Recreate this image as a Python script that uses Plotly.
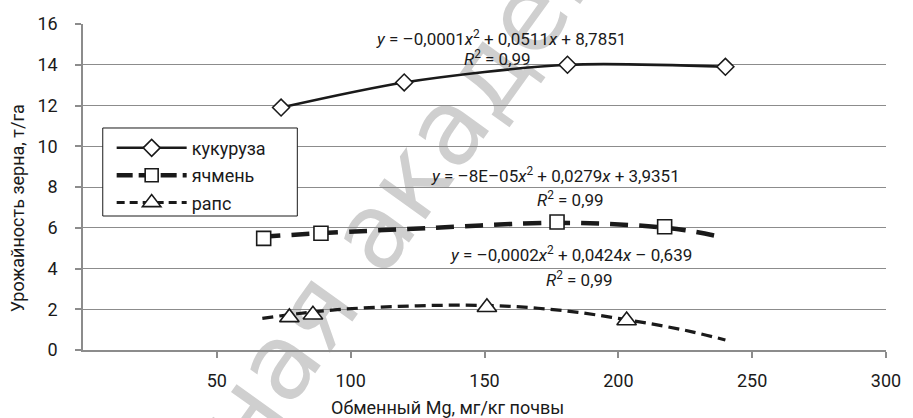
import plotly.graph_objects as go

# ---- data ----
corn_x = [74, 120, 181, 240]
corn_y = [11.90, 13.13, 14.00, 13.90]
barley_x = [67.5, 88.9, 177.1, 217.3]
barley_y = [5.48, 5.73, 6.28, 6.05]
rape_x = [77.1, 85.9, 150.9, 203.1]
rape_y = [1.60, 1.73, 2.10, 1.45]
# polynomial trendlines as drawn in the reference
barley_trend_x = [67, 90, 130, 175, 205, 225, 238]
barley_trend_y = [5.56, 5.74, 5.99, 6.24, 6.13, 5.88, 5.56]
rape_trend_x = [67, 80, 95, 110, 125, 140, 155, 170, 185, 200, 215, 228, 240]
rape_trend_y = [1.55, 1.78, 1.98, 2.10, 2.17, 2.20, 2.17, 2.05, 1.85, 1.55, 1.22, 0.88, 0.49]
series_names = ["кукуруза", "ячмень", "рапс"]
x_ticks = [50, 100, 150, 200, 250, 300]
y_ticks = [0, 2, 4, 6, 8, 10, 12, 14, 16]
eq_texts = [
    "<i>y</i> = –0,0001<i>x</i><sup>2</sup> + 0,0511<i>x</i> + 8,7851",
    "<i>y</i> = –8E–05<i>x</i><sup>2</sup> + 0,0279<i>x</i> + 3,9351",
    "<i>y</i> = –0,0002<i>x</i><sup>2</sup> + 0,0424<i>x</i> – 0,639",
]
r2_text = "<i>R</i><sup>2</sup> = 0,99"
x_title = "Обменный Mg, мг/кг почвы"
y_title = "Урожайность зерна, т/га"
watermark = "ная академ"

FONT = "Roboto, Liberation Sans, sans-serif"
INK = "#1a1a1a"
GRID = "#8c8c8c"

fig = go.Figure()
mk = dict(color="white", line=dict(color=INK, width=1.6))

# кукуруза: smoothed line through the points
fig.add_trace(go.Scatter(
    x=corn_x, y=corn_y, mode="lines+markers", name=series_names[0], legendgroup="a",
    line=dict(color=INK, width=2.6, shape="spline", smoothing=0.8),
    marker=dict(symbol="diamond", size=13, **mk),
))
# legend-only entries
fig.add_trace(go.Scatter(
    x=[None], y=[None], mode="lines+markers", name=series_names[1], legendgroup="b",
    line=dict(color=INK, width=4.5, dash="16px,6px"),
    marker=dict(symbol="square", size=13, **mk),
))
fig.add_trace(go.Scatter(
    x=[None], y=[None], mode="lines+markers", name=series_names[2], legendgroup="c",
    line=dict(color=INK, width=3, dash="8px,5px"),
    marker=dict(symbol="triangle-up", size=16, **mk),
))
# trendlines
fig.add_trace(go.Scatter(x=barley_trend_x, y=barley_trend_y, mode="lines", showlegend=False,
                         line=dict(color=INK, width=4.5, dash="18px,11px", shape="spline")))
fig.add_trace(go.Scatter(x=rape_trend_x, y=rape_trend_y, mode="lines", showlegend=False,
                         line=dict(color=INK, width=3.2, dash="11px,6px", shape="spline")))
# markers
fig.add_trace(go.Scatter(x=barley_x, y=barley_y, mode="markers", showlegend=False,
                         marker=dict(symbol="square", size=14, **mk)))
fig.add_trace(go.Scatter(x=rape_x, y=rape_y, mode="markers", showlegend=False,
                         marker=dict(symbol="triangle-up", size=17, **mk)))

ann_font = dict(family=FONT, size=17, color=INK)
eq_pos = [(156.3, 15.30), (176.4, 8.58), (182.5, 4.70)]
r2_pos = [(155.0, 14.34), (182.0, 7.42), (185.6, 3.50)]
annotations = []
for t, (ex, ey), (qx, qy) in zip(eq_texts, eq_pos, r2_pos):
    annotations.append(dict(x=ex, y=ey, xref="x", yref="y", text=t, showarrow=False,
                            font=ann_font, xanchor="center", yanchor="middle"))
    annotations.append(dict(x=qx, y=qy, xref="x", yref="y", text=r2_text, showarrow=False,
                            font=ann_font, xanchor="center", yanchor="middle"))
# axis titles
annotations.append(dict(x=0.454, y=-0.175, xref="paper", yref="paper", text=x_title,
                        showarrow=False, font=dict(family=FONT, size=18, color=INK),
                        xanchor="center", yanchor="middle"))
annotations.append(dict(x=-0.0806, y=0.436, xref="paper", yref="paper", text=y_title,
                        textangle=-90, showarrow=False,
                        font=dict(family=FONT, size=18, color=INK),
                        xanchor="center", yanchor="middle"))

shapes = [
    # watermark (behind everything)
    dict(type="line", xref="paper", yref="paper",
         x0=0.162, y0=-0.276, x1=0.625, y1=1.313,
         line=dict(width=0, color="rgba(0,0,0,0)"), layer="below",
         label=dict(text=watermark, textposition="middle", yanchor="middle",
                    font=dict(family="DejaVu Sans", size=105, color="#cfcfcf"))),
    # legend frame
    dict(type="rect", xref="paper", yref="paper",
         x0=0.0246, x1=0.2669, y0=0.411, y1=0.681,
         fillcolor="white", line=dict(color=INK, width=1), layer="above"),
]

fig.update_layout(
    width=913, height=418,
    margin=dict(l=83, r=17, t=24, b=68),
    paper_bgcolor="white", plot_bgcolor="white",
    font=dict(family=FONT, size=18, color=INK),
    showlegend=True,
    legend=dict(x=0.0357, y=0.676, xanchor="left", yanchor="top",
                bgcolor="rgba(0,0,0,0)", borderwidth=0,
                font=dict(family=FONT, size=18, color=INK),
                itemwidth=70, tracegroupgap=1),
    annotations=annotations,
    shapes=shapes,
)
fig.update_xaxes(
    range=[0, 300], tickvals=x_ticks, showgrid=False, zeroline=False,
    showline=True, linecolor=GRID, linewidth=1.5,
    ticks="outside", ticklen=6, tickcolor=GRID, tickwidth=1.5,
    ticklabelstandoff=8,
    tickfont=dict(family=FONT, size=18, color=INK),
)
fig.update_yaxes(
    range=[0, 16], tickvals=y_ticks, showgrid=True, gridcolor=GRID, gridwidth=1.2,
    zeroline=False, showline=True, linecolor=GRID, linewidth=1.5,
    ticks="outside", ticklen=6, tickcolor=GRID, tickwidth=1.5,
    ticklabelstandoff=14,
    tickfont=dict(family=FONT, size=18, color=INK),
)

# remove the default 8px page margin so the figure sits at the window's corner
fig.write_html("out.html", config={"displayModeBar": False},
               post_script="document.body.style.margin='0';")
